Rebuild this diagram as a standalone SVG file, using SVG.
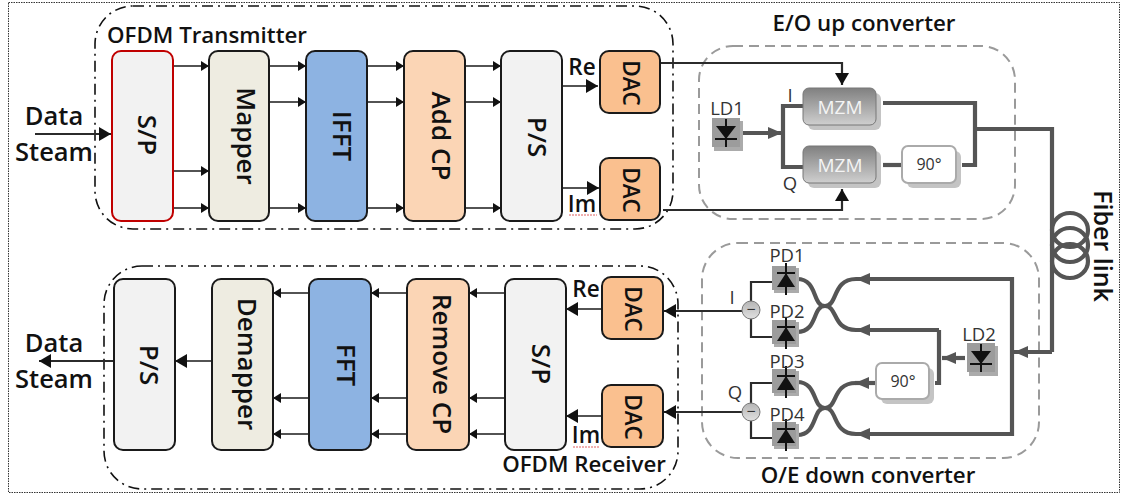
<svg xmlns="http://www.w3.org/2000/svg" width="1123" height="495" viewBox="0 0 1123 495" font-family="'Open Sans','Noto Sans',sans-serif">
<style>
.blk{stroke:#1a1a1a;stroke-width:2}
.gray{fill:#f2f2f2}.map{fill:#eeece1}.blue{fill:#8db3e2}.peach{fill:#fbd5b5}.dac{fill:#fac08f}
.lab{font-size:22.3px;font-weight:600;fill:#111;text-anchor:middle}
.big{font-size:25.500px}
.sm{font-size:22.500px}
.rot{font-size:26px;font-weight:600;fill:#111;text-anchor:middle}
.dt{font-size:22.500px}
.fl{font-size:25px}
.thin{font-size:18.500px;fill:#333;text-anchor:middle}
.mz{fill:#f4f4f4;font-size:19px}
.deg{font-size:16px}
.sig{fill:none;stroke:#1a1a1a;stroke-width:1.6}
.in{fill:none;stroke:#2b2b2b;stroke-width:2.2}
.fib{fill:none;stroke:#555;stroke-width:4.200}
.dd{fill:none;stroke:#111;stroke-width:1.6;stroke-dasharray:11 5 2 5}
.gd{fill:none;stroke:#9a9a9a;stroke-width:2;stroke-dasharray:10 6}
.sq{fill:none;stroke:#e06060;stroke-width:1;stroke-dasharray:2 1}
</style>
<defs>
<marker id="a" markerUnits="userSpaceOnUse" markerWidth="9" markerHeight="10" refX="8" refY="5" orient="auto"><path d="M0 0L8 5L0 10Z" fill="#111"/></marker>
<marker id="b" markerUnits="userSpaceOnUse" markerWidth="13" markerHeight="14" refX="12" refY="7" orient="auto"><path d="M0 0L12 7L0 14Z" fill="#111"/></marker>
<marker id="c" markerUnits="userSpaceOnUse" markerWidth="15" markerHeight="12" refX="14" refY="6" orient="auto"><path d="M0 0L14 6L0 12Z" fill="#555"/></marker>
<linearGradient id="mz" x1="0" y1="0" x2="0" y2="1"><stop offset="0" stop-color="#808080"/><stop offset="1" stop-color="#cfcfcf"/></linearGradient>
<linearGradient id="ci" x1="0" y1="0" x2="0" y2="1"><stop offset="0" stop-color="#b5b5b5"/><stop offset="1" stop-color="#e0e0e0"/></linearGradient>
<g id="pd"><rect x="-12" y="-12" width="25" height="25" fill="#ababab"/><rect x="-14" y="-14" width="24" height="24" fill="#9c9c9c"/><path d="M0 -17V15M-9 -7H9" stroke="#111" stroke-width="2" fill="none"/><path d="M0 -7L-9 7H9Z" fill="#111"/></g>
<g id="ld"><rect x="-12" y="-12" width="29" height="30" fill="#ababab"/><rect x="-14" y="-15" width="28" height="29" fill="#9c9c9c"/><path d="M0 -14V14M-11 6H11" stroke="#111" stroke-width="2" fill="none"/><path d="M0 6L-10 -7H10Z" fill="#111"/></g>
</defs>
<rect x="8.500" y="2.500" width="1111" height="490" fill="none" stroke="#333" stroke-width="1" stroke-dasharray="1.500 1"/>
<rect x="95" y="6" width="578" height="223" rx="38" class="dd"/>
<rect x="104" y="266" width="574" height="223" rx="38" class="dd"/>
<rect x="699" y="46" width="316" height="173" rx="34" class="gd"/>
<rect x="702" y="243" width="337" height="215" rx="36" class="gd"/>

<g id="connectors">
<path class="sig" marker-end="url(#a)" d="M173 66H209"/><path class="sig" marker-end="url(#a)" d="M173 171H209"/><path class="sig" marker-end="url(#a)" d="M173 208H209"/>
<path class="sig" marker-end="url(#a)" d="M269 66H306"/><path class="sig" marker-end="url(#a)" d="M269 102H306"/><path class="sig" marker-end="url(#a)" d="M269 208H306"/>
<path class="sig" marker-end="url(#a)" d="M367 66H404"/><path class="sig" marker-end="url(#a)" d="M367 102H404"/><path class="sig" marker-end="url(#a)" d="M367 208H404"/>
<path class="sig" marker-end="url(#a)" d="M465 66H501"/><path class="sig" marker-end="url(#a)" d="M465 102H501"/><path class="sig" marker-end="url(#a)" d="M465 208H501"/>
<path class="sig" marker-end="url(#b)" d="M562 86H598"/><path class="sig" marker-end="url(#b)" d="M562 188H599"/>
<path class="in" marker-end="url(#b)" d="M35 134H111"/>
<path class="sig" marker-end="url(#a)" d="M309 293H273"/><path class="sig" marker-end="url(#a)" d="M309 398H273"/><path class="sig" marker-end="url(#a)" d="M309 434H273"/>
<path class="sig" marker-end="url(#a)" d="M407 293H371"/><path class="sig" marker-end="url(#a)" d="M407 398H371"/><path class="sig" marker-end="url(#a)" d="M407 434H371"/>
<path class="sig" marker-end="url(#a)" d="M505 293H469"/><path class="sig" marker-end="url(#a)" d="M505 398H469"/><path class="sig" marker-end="url(#a)" d="M505 434H469"/>
<path class="sig" marker-end="url(#b)" d="M602 309H566"/><path class="sig" marker-end="url(#b)" d="M602 416H566"/>
<path class="sig" marker-end="url(#b)" d="M212 361H175"/><path class="in" marker-end="url(#b)" d="M114 361H39"/>
<path class="in" marker-end="url(#b)" d="M660 63H842V85"/><path class="in" marker-end="url(#b)" d="M663 210H842V189"/>
<path class="in" marker-end="url(#b)" d="M742 311H664"/><path class="in" marker-end="url(#b)" d="M742 412H664"/>
<path class="fib" marker-end="url(#c)" d="M743 133H782"/>
<path class="fib" d="M803 106H783V167H803"/><path class="fib" d="M883 103H975V165H962"/><path class="fib" d="M883 165H902"/>
<path class="fib" d="M975 129H1052V352"/>
<path class="fib" marker-end="url(#c)" d="M1052 352H1014"/>
<ellipse class="fib" cx="1070" cy="230" rx="18" ry="17"/><ellipse class="fib" cx="1070" cy="245" rx="18" ry="17"/><ellipse class="fib" cx="1070" cy="261" rx="18" ry="17"/>
<path class="fib" marker-end="url(#c)" d="M1012 279H856"/><path class="fib" d="M1012 277V436"/><path class="fib" marker-end="url(#c)" d="M1012 434H856"/>
<path class="fib" marker-end="url(#c)" d="M939 330H856"/><path class="fib" d="M939 330V383H935"/>
<path class="fib" marker-end="url(#c)" d="M965 358H942"/>
<path class="fib" marker-end="url(#c)" d="M876 383H855"/>
<path class="fib" d="M797 279C818 279 812 306 825 306C838 306 832 330 856 330"/>
<path class="fib" d="M797 332C818 332 812 306 825 306C838 306 832 279 856 279"/>
<path class="fib" d="M797 382C818 382 812 408 825 408C838 408 832 434 856 434"/>
<path class="fib" d="M797 435C818 435 812 408 825 408C838 408 832 383 856 383"/>
<path class="in" d="M772 282H751V337H772"/><path class="in" d="M772 383H751V438H772"/>
</g>

<g id="tx-sp"><rect x="112" y="51" width="61" height="170" rx="9" class="gray" stroke="#c00000" stroke-width="2"/><text class="rot" transform="translate(138 135) rotate(90)">S/P</text></g>
<g id="tx-mapper"><rect x="209" y="51" width="60" height="170" rx="9" class="map blk"/><text class="rot" transform="translate(237 136) rotate(90)">Mapper</text></g>
<g id="tx-ifft"><rect x="306" y="51" width="61" height="170" rx="9" class="blue blk"/><text class="rot" transform="translate(333 136) rotate(90)">IFFT</text></g>
<g id="tx-addcp"><rect x="404" y="51" width="61" height="170" rx="9" class="peach blk"/><text class="rot" transform="translate(432 136) rotate(90)">Add CP</text></g>
<g id="tx-ps"><rect x="501" y="51" width="61" height="170" rx="9" class="gray blk"/><text class="rot" transform="translate(528 137) rotate(90)">P/S</text></g>
<g id="tx-dac1"><rect x="600" y="51" width="60" height="62" rx="9" class="dac blk"/><text class="rot dt" transform="translate(623 83) rotate(90)">DAC</text></g>
<g id="tx-dac2"><rect x="600" y="158" width="60" height="62" rx="9" class="dac blk"/><text class="rot dt" transform="translate(623 190) rotate(90)">DAC</text></g>

<g id="rx-ps"><rect x="114" y="279" width="61" height="171" rx="9" class="gray blk"/><text class="rot" transform="translate(140 365) rotate(90)">P/S</text></g>
<g id="rx-demapper"><rect x="212" y="279" width="61" height="171" rx="9" class="map blk"/><text class="rot" transform="translate(238 364) rotate(90)">Demapper</text></g>
<g id="rx-fft"><rect x="309" y="279" width="62" height="171" rx="9" class="blue blk"/><text class="rot" transform="translate(337 365) rotate(90)">FFT</text></g>
<g id="rx-removecp"><rect x="407" y="279" width="62" height="171" rx="9" class="peach blk"/><text class="rot" transform="translate(433 364) rotate(90)">Remove CP</text></g>
<g id="rx-sp"><rect x="505" y="279" width="61" height="171" rx="9" class="gray blk"/><text class="rot" transform="translate(532 364) rotate(90)">S/P</text></g>
<g id="rx-dac1"><rect x="602" y="277" width="61" height="62" rx="9" class="dac blk"/><text class="rot dt" transform="translate(625 309) rotate(90)">DAC</text></g>
<g id="rx-dac2"><rect x="602" y="385" width="61" height="62" rx="9" class="dac blk"/><text class="rot dt" transform="translate(625 417) rotate(90)">DAC</text></g>

<g id="ld1"><use href="#ld" x="726" y="133"/><text class="thin" x="727" y="115">LD1</text></g>
<g id="mzm1"><rect x="808" y="93" width="73" height="37" rx="6" fill="#c4c4c4"/><rect x="803" y="88" width="73" height="37" rx="6" fill="url(#mz)" stroke="#777"/><text class="thin mz" x="840" y="114">MZM</text></g>
<g id="mzm2"><rect x="808" y="151" width="73" height="37" rx="6" fill="#c4c4c4"/><rect x="803" y="146" width="73" height="37" rx="6" fill="url(#mz)" stroke="#777"/><text class="thin mz" x="840" y="172">MZM</text></g>
<g id="ps1"><rect x="907" y="151" width="54" height="37" rx="6" fill="#c4c4c4"/><rect x="902" y="146" width="54" height="37" rx="6" fill="#fff" stroke="#aaa" stroke-width="2"/><text class="thin deg" x="929" y="170">90°</text></g>
<g id="ps2"><rect x="881" y="368" width="53" height="36" rx="6" fill="#c4c4c4"/><rect x="876" y="363" width="53" height="36" rx="6" fill="#fff" stroke="#aaa" stroke-width="2"/><text class="thin deg" x="903" y="387">90°</text></g>
<g id="ld2"><use href="#ld" x="981" y="358"/><text class="thin" x="979" y="341">LD2</text></g>
<g id="pd1"><use href="#pd" x="786" y="280"/><text class="thin" x="787" y="262">PD1</text></g>
<g id="pd2"><use href="#pd" x="786" y="334"/><text class="thin" x="787" y="318">PD2</text></g>
<g id="pd3"><use href="#pd" x="786" y="383"/><text class="thin" x="787" y="368">PD3</text></g>
<g id="pd4"><use href="#pd" x="786" y="436"/><text class="thin" x="787" y="421">PD4</text></g>
<g id="sub1"><circle cx="751" cy="310" r="9" fill="url(#ci)" stroke="#777"/><text class="thin deg" x="751" y="315">−</text></g>
<g id="sub2"><circle cx="751" cy="412" r="9" fill="url(#ci)" stroke="#777"/><text class="thin deg" x="751" y="417">−</text></g>

<g id="labels">
<text class="lab" x="207" y="43">OFDM Transmitter</text>
<text class="lab" x="584" y="472">OFDM Receiver</text>
<text class="lab" x="864" y="31">E/O up converter</text>
<text class="lab" x="868" y="483">O/E down converter</text>
<text class="rot fl" transform="translate(1094 246) rotate(90)">Fiber link</text>
<text class="lab big" x="54" y="125">Data</text><text class="lab big" x="54" y="161">Steam</text>
<text class="lab big" x="54" y="352">Data</text><text class="lab big" x="54" y="388">Steam</text>
<text class="lab sm" x="582" y="75">Re</text><text class="lab sm" x="582" y="212">Im</text>
<text class="lab sm" x="586" y="297">Re</text><text class="lab sm" x="586" y="443">Im</text>
<text class="thin" x="790" y="102">I</text><text class="thin" x="790" y="190">Q</text>
<text class="thin" x="732" y="304">I</text><text class="thin" x="735" y="399">Q</text>
<path class="sq" d="M569 215H597M573 447H600"/>
</g>
</svg>
